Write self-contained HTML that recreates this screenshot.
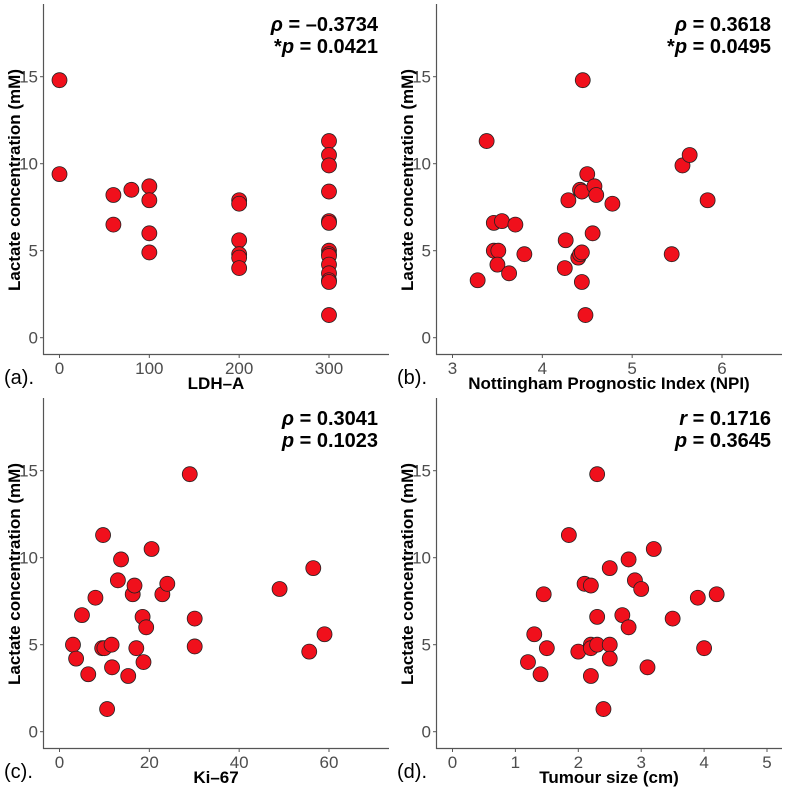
<!DOCTYPE html>
<html><head><meta charset="utf-8"><style>
body{margin:0;background:#fff}
svg{display:block}
text{font-family:"Liberation Sans",sans-serif}
</style></head><body>
<svg id="c" width="787" height="788"></svg>
<script>
const yA=[14.8,9.4,8.2,6.5,8.5,8.7,7.9,6.0,4.9,7.9,7.7,5.6,4.8,4.6,4.0,11.3,10.5,9.9,8.4,6.7,6.6,5.0,4.8,4.7,4.2,3.7,3.3,3.2,1.3];
const xA=[0,0,60,60,80,100,100,100,100,200,200,200,200,200,200,300,300,300,300,300,300,300,300,300,300,300,300,300,300];
const xB=[3.28,3.38,3.46,3.55,3.7,3.46,3.51,3.5,3.63,3.8,4.25,4.26,4.29,4.42,4.44,4.45,4.5,4.58,4.6,4.56,4.78,4.4,4.42,4.44,4.44,4.48,5.44,5.56,5.64,5.84];
const yB=[3.3,11.3,6.6,6.7,6.5,5.0,5.0,4.2,3.7,4.8,4.0,5.6,7.9,8.5,8.4,14.8,9.4,8.7,8.2,6.0,7.7,4.6,4.8,4.9,3.2,1.3,4.8,9.9,10.5,7.9];
const xC=[3,3.7,5,6.4,8,9.7,9.5,10,11.6,11.7,10.6,13,13.7,16.3,16.7,17.1,15.3,18.5,19.3,18.7,20.5,22.9,24,29,30.1,30.1,49,55.6,56.5,59];
const yC=[5.0,4.2,6.7,3.3,7.7,11.3,4.8,4.8,5.0,3.7,1.3,8.7,9.9,7.9,8.4,4.8,3.2,6.6,6.0,4.0,10.5,7.9,8.5,14.8,6.5,4.9,8.2,4.6,9.4,5.6];
const xD=[1.2,1.3,1.4,1.45,1.5,1.85,2.0,2.1,2.2,2.2,2.2,2.3,2.2,2.3,2.3,2.4,2.5,2.5,2.5,2.7,2.8,2.8,2.9,3.0,3.1,3.2,3.5,3.9,4.0,4.2];
const yD=[4.0,5.6,3.3,7.9,4.8,11.3,4.6,8.5,8.4,5.0,4.8,5.0,3.2,14.8,6.6,1.3,9.4,5.0,4.2,6.7,9.9,6.0,8.7,8.2,3.7,10.5,6.5,7.7,4.8,7.9];
const yTicks=[0,5,10,15];
const panels=[
 {ox:0,oy:0,xs:xA,ys:yA,x0:0,x1:300,xt:[0,100,200,300],xl:"LDH\u2013A",lab:"(a).",s2:"*",v1:" = \u20130.3734",v2:" = 0.0421",sym:"\u03C1"},
 {ox:393,oy:0,xs:xB,ys:yB,x0:3,x1:6,xt:[3,4,5,6],xl:"Nottingham Prognostic Index (NPI)",lab:"(b).",s2:"*",v1:" = 0.3618",v2:" = 0.0495",sym:"\u03C1"},
 {ox:0,oy:394,xs:xC,ys:yC,x0:0,x1:60,xt:[0,20,40,60],xl:"Ki\u201367",lab:"(c).",s2:"",v1:" = 0.3041",v2:" = 0.1023",sym:"\u03C1"},
 {ox:393,oy:394,xs:xD,ys:yD,x0:0,x1:5,xt:[0,1,2,3,4,5],xl:"Tumour size (cm)",lab:"(d).",s2:"",v1:" = 0.1716",v2:" = 0.3645",sym:"r"}
];
const NS="http://www.w3.org/2000/svg";
const root=document.getElementById('c');
function mk(t,a,p){const e=document.createElementNS(NS,t);for(const k in a)e.setAttribute(k,a[k]);p.appendChild(e);return e;}
panels.forEach((P,i)=>{
 const g=mk('g',{transform:`translate(${P.ox},${P.oy})`},root);
 
 
 const px0=59.5,px1=(P.xt.length===6)?374:329;
 const X=v=>px0+(v-P.x0)/(P.x1-P.x0)*(px1-px0);
 const Y=v=>337.7-v*17.4;
 mk('line',{x1:43.5,y1:4,x2:43.5,y2:355,stroke:'#555','stroke-width':1.2},g);
 mk('line',{x1:43,y1:354.5,x2:389,y2:354.5,stroke:'#555','stroke-width':1.2},g);
 yTicks.forEach(t=>{
  mk('line',{x1:40,y1:Y(t),x2:43.5,y2:Y(t),stroke:'#555'},g);
  const tx=mk('text',{x:38,y:Y(t)+6,'text-anchor':'end','font-size':17,fill:'#4d4d4d'},g);tx.textContent=t;
  
 });
 P.xt.forEach(t=>{
  mk('line',{x1:X(t),y1:354.5,x2:X(t),y2:358,stroke:'#555'},g);
  const tx=mk('text',{x:X(t),y:374,'text-anchor':'middle','font-size':17,fill:'#4d4d4d'},g);tx.textContent=t;
  
 });
 P.xs.forEach((v,j)=>{
  const c=mk('circle',{cx:X(v),cy:Y(P.ys[j]),r:7.5,fill:'#f0101c',stroke:'#222','stroke-width':0.8},g);
  
  
 });
 const yt=mk('text',{transform:'translate(20,180) rotate(-90)','text-anchor':'middle','font-size':17,'font-weight':'bold'},g);
 yt.textContent='Lactate concentration (mM)';
 
 const xtl=mk('text',{x:216,y:389,'text-anchor':'middle','font-size':17,'font-weight':'bold'},g);
 xtl.textContent=P.xl;
 
 const lb=mk('text',{x:4,y:384,'font-size':20},g);
 lb.textContent=P.lab;
 
 const a1=mk('text',{x:378,y:31,'text-anchor':'end','font-size':20,'font-weight':'bold'},g);
 a1.innerHTML=`<tspan font-style="italic">${P.sym}</tspan>${P.v1}`;
 
 const a2=mk('text',{x:378,y:53,'text-anchor':'end','font-size':20,'font-weight':'bold'},g);
 a2.innerHTML=`${P.s2}<tspan font-style="italic">p</tspan>${P.v2}`;
 
});
</script>
</body></html>
